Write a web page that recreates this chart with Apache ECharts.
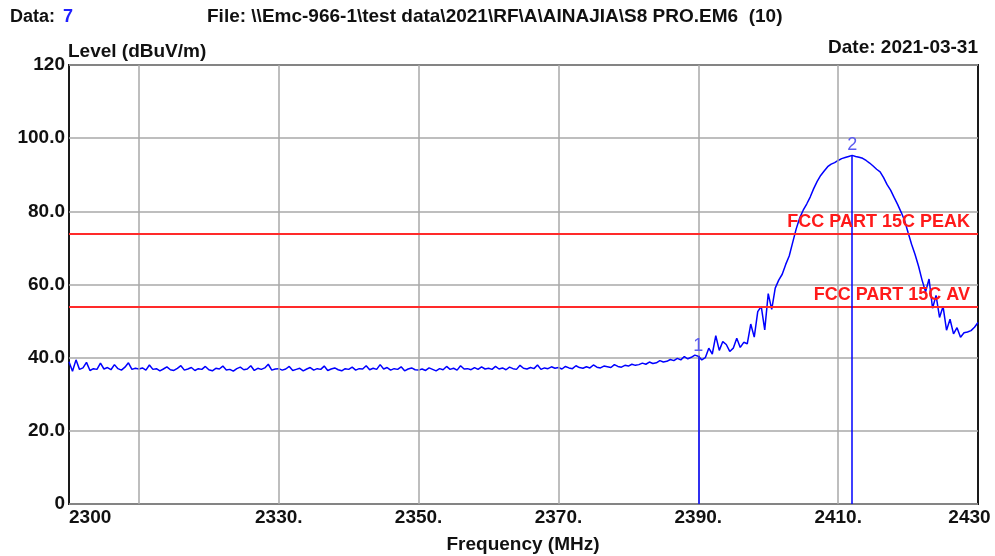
<!DOCTYPE html>
<html>
<head>
<meta charset="utf-8">
<script src="https://cdn.jsdelivr.net/npm/echarts@6/dist/echarts.min.js"></script>
<style>
html,body{margin:0;padding:0;background:#fff;}
#c{width:995px;height:556px;}
</style>
</head>
<body>
<div id="c"></div>
<script>
// ---- data ----
const freqStart = 2300;      // MHz, first sweep point
const freqStep = 0.5;        // MHz between sweep points
const level = [
  // 2300 - 2309.5
  38.9, 36.3, 39.4, 36.8, 37.2, 38.7, 36.5, 37.0, 36.8, 38.5, 36.9, 37.3, 36.7, 38.1, 37.0, 36.6, 37.4, 38.6, 36.8, 37.1,
  // 2310 - 2319.5
  36.9, 37.2, 36.6, 38.0, 36.8, 37.0, 36.4, 36.9, 37.5, 36.7, 36.5, 37.1, 37.8, 36.6, 36.9, 37.3, 36.5, 37.0, 36.8, 37.6,
  // 2320 - 2329.5
  36.7, 36.4, 37.1, 36.9, 37.7, 36.6, 36.8, 36.3, 37.0, 37.4, 36.7, 36.9, 37.8, 36.5, 37.1, 36.8, 37.2, 38.2, 36.6, 36.9,
  // 2330 - 2339.5
  37.0, 36.6, 36.9, 37.6, 36.5, 36.8, 37.1, 36.4, 36.9, 37.3, 36.6, 37.0, 36.8, 37.7, 36.5, 36.9, 37.2, 36.7, 36.4, 37.0,
  // 2340 - 2349.5
  36.8, 37.4, 36.6, 37.0, 36.9, 37.8, 36.7, 37.1, 36.8, 38.1, 36.9, 37.3, 36.6, 37.0, 36.8, 37.5, 36.4, 36.9, 37.2, 36.7,
  // 2350 - 2359.5
  36.6, 36.9, 36.5, 37.2, 36.8, 36.4, 37.0, 36.7, 37.6, 36.8, 37.1, 36.6, 37.8, 36.9, 37.0, 36.7, 37.3, 36.8, 37.5, 36.9,
  // 2360 - 2369.5
  37.1, 36.8, 37.6, 36.9, 37.2, 36.7, 37.4, 37.0, 36.8, 37.9, 37.1, 36.9, 37.3, 37.0, 38.0, 36.8, 37.2, 37.0, 37.5, 37.1,
  // 2370 - 2379.5
  37.3, 36.9, 37.6, 37.2, 37.0, 37.8, 37.3, 37.1, 37.5, 37.2, 38.0, 37.4, 37.2, 37.7, 37.5, 37.3, 38.1, 37.6, 37.4, 37.9,
  // 2380 - 2389.5
  37.7, 38.2, 37.9, 38.1, 38.5, 38.2, 38.8, 38.4, 38.6, 39.2, 38.8, 39.0, 39.5, 39.2, 39.8, 39.4, 40.3, 39.7, 40.1, 40.7,
  // 2390 - 2399.5
  40.4, 39.4, 40.0, 42.6, 41.0, 46.0, 42.0, 44.4, 43.6, 41.7, 42.6, 45.3, 42.8, 44.2, 43.8, 49.2, 45.6, 52.6, 54.0, 47.6,
  // 2400 - 2409.5
  57.5, 53.2, 59.0, 61.2, 62.8, 65.5, 67.8, 71.5, 75.2, 78.2, 80.3, 82.0, 83.9, 86.2, 88.2, 89.8, 91.0, 92.2, 92.9, 93.3,
  // 2410 - 2419.5
  93.9, 94.4, 94.7, 95.0, 95.3, 95.0, 94.8, 94.5, 93.9, 93.2, 92.4, 91.5, 90.8, 89.2, 87.3, 85.8, 83.8, 81.9, 79.8, 77.5,
  // 2420 - 2429.5
  74.2, 71.0, 68.2, 65.0, 61.2, 58.0, 61.5, 53.5, 57.0, 51.0, 54.0, 47.5, 50.5, 46.5, 48.2, 45.6, 46.8, 47.0, 47.4, 48.3,
  // 2430
  49.6
];
const limitLevels = [74, 54];
const limitNames = ['FCC PART 15C PEAK', 'FCC PART 15C AV'];
const markerFreqs = [2390, 2412];
const markerLevels = [40.5, 95.3];
const markerNames = ['1', '2'];
const gridFreqs = [2310, 2330, 2350, 2370, 2390, 2410];
const xTickValues = [2300, 2330, 2350, 2370, 2390, 2410, 2430];
const xTickLabels = ['2300', '2330.', '2350.', '2370.', '2390.', '2410.', '2430'];
const yTickValues = [0, 20, 40, 60, 80, 100, 120];
const yTickLabels = ['0', '20.0', '40.0', '60.0', '80.0', '100.0', '120'];

// ---- chart ----
const FONT = 'Liberation Sans, Arial, sans-serif';
const traceData = level.map((v, i) => [freqStart + i * freqStep, v]);
const chart = echarts.init(document.getElementById('c'), null, {renderer: 'canvas'});

chart.setOption({
  animation: false,
  backgroundColor: '#ffffff',
  grid: {left: 69, right: 17, top: 65, bottom: 52, show: true, borderColor: '#1a1a1a', borderWidth: 2, backgroundColor: 'transparent'},
  xAxis: {
    type: 'value', min: 2300, max: 2430, interval: 10,
    axisLine: {show: false}, axisTick: {show: false}, splitLine: {show: false},
    axisLabel: {
      margin: 4, color: '#111', fontFamily: FONT, fontWeight: 'bold', fontSize: 19,
      showMinLabel: true, showMaxLabel: true, alignMinLabel: 'left',
      formatter: function (v) {
        const k = xTickValues.indexOf(Math.round(v));
        if (k < 0) return '';
        if (k === xTickValues.length - 1) return '{mx|' + xTickLabels[k] + '}';
        return xTickLabels[k];
      },
      rich: {mx: {fontFamily: FONT, fontWeight: 'bold', fontSize: 19, color: '#111', padding: [0, 17, 0, 0]}}
    }
  },
  yAxis: {
    type: 'value', min: 0, max: 120, interval: 20,
    axisLine: {show: false}, axisTick: {show: false},
    splitLine: {show: true, lineStyle: {color: '#a8a8a8', width: 1.5}},
    axisLabel: {
      margin: 4, color: '#111', fontFamily: FONT, fontWeight: 'bold', fontSize: 19,
      formatter: function (v) {
        const k = yTickValues.indexOf(Math.round(v));
        return k < 0 ? '' : yTickLabels[k];
      }
    }
  },
  series: [
    {
      name: 'grid', type: 'line', data: [], z: 1, silent: true,
      markLine: {
        silent: true, symbol: ['none', 'none'], animation: false,
        label: {show: false},
        lineStyle: {color: '#a8a8a8', width: 1.5, type: 'solid'},
        emphasis: {disabled: true},
        data: gridFreqs.map(f => ({xAxis: f}))
      }
    },
    {
      name: 'Level', type: 'line', data: traceData, z: 3,
      showSymbol: false, symbol: 'none', silent: true,
      lineStyle: {color: '#0000ff', width: 1.5}
    },
    {
      name: 'limits', type: 'line', data: [], z: 4, silent: true,
      markLine: {
        silent: true, symbol: ['none', 'none'], animation: false,
        emphasis: {disabled: true},
        lineStyle: {color: '#ff2a2a', width: 2, type: 'solid'},
        label: {
          show: true, position: 'insideEndTop', distance: [8, 2],
          color: '#ff1a1a', fontFamily: FONT, fontWeight: 'bold', fontSize: 18,
          formatter: p => p.name
        },
        data: limitLevels.map((v, i) => ({yAxis: v, name: limitNames[i]}))
      }
    },
    {
      name: 'markers', type: 'line', data: [], z: 5, silent: true,
      markLine: {
        silent: true, symbol: ['none', 'none'], animation: false,
        emphasis: {disabled: true},
        lineStyle: {color: '#0000ff', width: 1.5, type: 'solid'},
        label: {
          show: true, position: 'end', distance: 1,
          color: '#5a5af0', fontFamily: FONT, fontSize: 18,
          formatter: p => p.name
        },
        data: markerFreqs.map((f, i) => [
          {coord: [f, 0], name: markerNames[i]},
          {coord: [f, markerLevels[i]]}
        ])
      }
    }
  ],
  graphic: [
    {type: 'text', x: 10, y: 17, style: {text: 'Data:', font: 'bold 18px ' + FONT, fill: '#111', textVerticalAlign: 'middle'}},
    {type: 'text', x: 63, y: 17, style: {text: '7', font: 'bold 18px ' + FONT, fill: '#2020ff', textVerticalAlign: 'middle'}},
    {type: 'text', x: 207, y: 17, style: {text: 'File: \\\\Emc-966-1\\test data\\2021\\RF\\A\\AINAJIA\\S8 PRO.EM6  (10)', font: 'bold 19px ' + FONT, fill: '#111', textVerticalAlign: 'middle'}},
    {type: 'text', x: 68, y: 52, style: {text: 'Level (dBuV/m)', font: 'bold 19px ' + FONT, fill: '#111', textVerticalAlign: 'middle'}},
    {type: 'text', x: 978, y: 48, style: {text: 'Date: 2021-03-31', font: 'bold 19px ' + FONT, fill: '#111', textAlign: 'right', textVerticalAlign: 'middle'}},
    {type: 'text', x: 523, y: 545, style: {text: 'Frequency (MHz)', font: 'bold 19px ' + FONT, fill: '#111', textAlign: 'center', textVerticalAlign: 'middle'}}
  ]
});
</script>
</body>
</html>
